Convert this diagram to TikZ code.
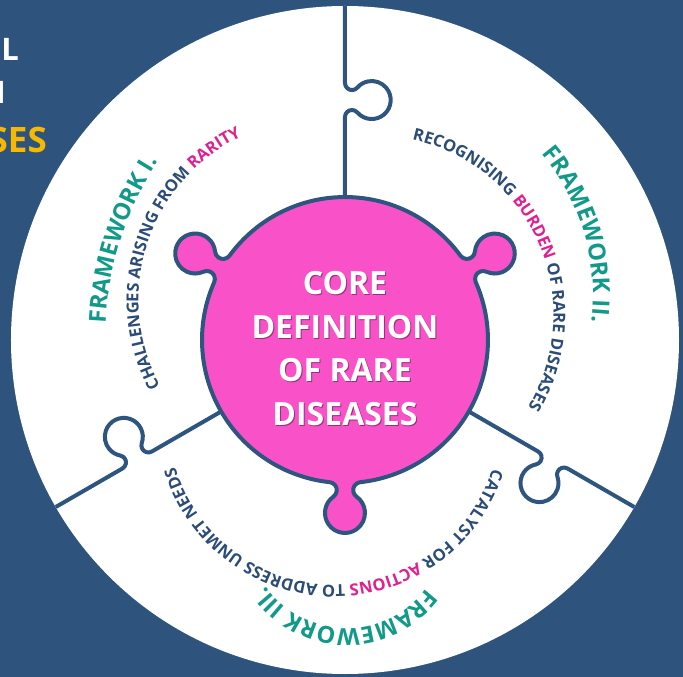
\documentclass[tikz,border=0pt]{standalone}
\usepackage{fontspec}
\setmainfont{Open Sans}
\usetikzlibrary{decorations.text}
\definecolor{bg}{HTML}{2E547E}
\definecolor{edge}{HTML}{2D5580}
\definecolor{dblue}{HTML}{2B4C77}
\definecolor{teal}{HTML}{11998A}
\definecolor{mag}{HTML}{E0208F}
\definecolor{pinkfill}{HTML}{F952C9}
\definecolor{gold}{HTML}{F6B800}
\newcommand{\fw}{\bfseries\fontsize{23.5}{23.5}\selectfont\color{teal}}
\newcommand{\ina}{\bfseries\fontsize{16.5}{16.5}\selectfont\color{dblue}}
\newcommand{\inb}{\bfseries\fontsize{16.5}{16.5}\selectfont\color{mag}}
\tikzset{
  puzzleline/.style={draw=edge, line width=4pt, line join=round},
  pinkshape/.style={fill=pinkfill, draw=edge, line width=4pt, line join=round},
  arctext/.style={decorate, decoration={text along path, text align=center}},
  sidetext/.style={inner sep=0pt, font=\bfseries\fontsize{31}{31}\selectfont}
}
\begin{document}
\begin{tikzpicture}[x=1pt,y=1pt]
\useasboundingbox (-345,-337) rectangle (338,340);
\fill[bg] (-345,-337) rectangle (338,340);
% side title fragments
\node[sidetext, text=white, anchor=base east] (t1) at (-326,279) {L};
\node[sidetext, text=white, anchor=base east] (t2) at (-339,236) {N};
\node[sidetext, text=gold, anchor=base east, font=\bfseries\fontsize{35}{35}\selectfont] (t3) at (-298,187) {SES};
% white disc
\fill[white] (0,0) circle[radius=334pt];
% puzzle lines
\foreach \r in {0,120,240}{
  \begin{scope}[rotate=\r]
    \draw[puzzleline] (0,143) -- (0,223)
      arc[start angle=180, end angle=40.83, radius=7pt]
      arc[start angle=220.7, end angle=499.3, radius=19pt]
      arc[start angle=-40.83, end angle=-180, radius=7pt]
      -- (0,334);
  \end{scope}
}
% central pink piece
\draw[pinkshape] (-96.16:143pt)
  \foreach \a in {-90,30,150}{
    arc[start angle=\a+173.84, end angle=\a+35.3, radius=8pt]
    arc[start angle=\a-144.7, end angle=\a+144.7, radius=20pt]
    arc[start angle=\a-35.3, end angle=\a-173.84, radius=8pt]
    arc[start angle=\a+6.16, end angle=\a+113.84, radius=143pt]
  } -- cycle;
\node[align=center, text=pinkfill!60!black, font=\bfseries\fontsize{32}{43.6}\selectfont] (coreshadow) at (1,-9.4) {CORE\\DEFINITION\\OF RARE\\DISEASES};
\node[align=center, text=white, font=\bfseries\fontsize{32}{43.6}\selectfont] (core) at (0,-8.4) {CORE\\DEFINITION\\OF RARE\\DISEASES};
% framework titles
\begin{scope}[shift={(82.4,1.7)}]
  \path[arctext, decoration={text={|\fw|FRAMEWORK I.}}] (202:322pt) arc[start angle=202, end angle=122, radius=322pt];
\end{scope}
\begin{scope}[shift={(29,45.4)}]
  \path[arctext, decoration={text={|\fw|FRAMEWORK II.}}] (70:219pt) arc[start angle=70, end angle=-37, radius=219pt];
\end{scope}
\begin{scope}[shift={(2.1,-189.7)}]
  \path[arctext, decoration={text={|\fw|FRAMEWORK III.}}] (-21:99pt) arc[start angle=-21, end angle=-161, radius=99pt];
\end{scope}
% inner texts
\begin{scope}[shift={(-25,40)}]
  \path[arctext, decoration={text={|\ina|CHALLENGES ARISING FROM |\inb|RARITY}}] (232:181.5pt) arc[start angle=232, end angle=92, radius=181.5pt];
\end{scope}
\begin{scope}[shift={(29,25)}]
  \path[arctext, decoration={text={|\ina|RECOGNISING |\inb|BURDEN|\ina| OF RARE DISEASES}}] (101.4:179.5pt) arc[start angle=101.4, end angle=-54.6, radius=179.5pt];
\end{scope}
\begin{scope}[shift={(-11,-79)}]
  \path[arctext, decoration={text={|\ina|CATALYST FOR |\inb|ACTIONS|\ina| TO ADDRESS UNMET NEEDS}}] (-0.3:166pt) arc[start angle=-0.3, end angle=-180.3, radius=166pt];
\end{scope}
\end{tikzpicture}
\end{document}
